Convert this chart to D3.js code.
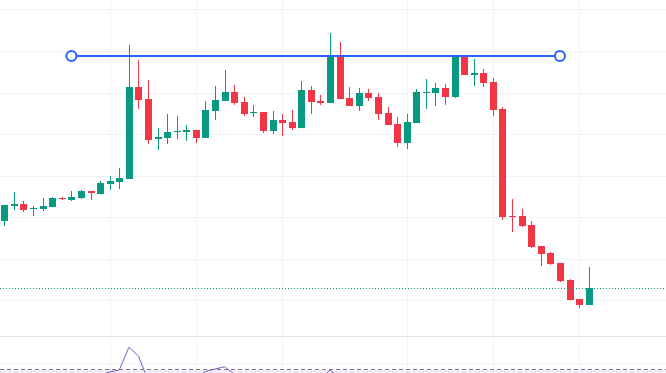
<!DOCTYPE html>
<html>
<head>
<meta charset="utf-8">
<script src="https://cdn.jsdelivr.net/npm/d3@7"></script>
<style>
  html, body { margin: 0; padding: 0; background: #ffffff; }
  svg { display: block; }
</style>
</head>
<body>
<div id="chart"></div>
<script>
// DATA (one value per candle, index 0..61)
var opens = [179.3, 194.3, 196, 191.7, 191, 193.3, 202.3, 200, 202.3, 209,
  206.3, 216.3, 218.3, 221, 313, 301, 260.7, 262.3, 268.3, 268,
  270, 262.3, 289.3, 299.3, 308, 298, 286.7, 288, 269.3, 280,
  278, 272, 310, 299.3, 297.3, 344, 302, 294, 307, 303,
  287, 276, 257, 277, 307.7, 307, 312, 303, 343, 325.3,
  327, 318, 291, 184, 184, 175, 154, 147, 137, 120,
  101, 95];
var highs = [195, 208, 199, 194, 202, 203, 203.3, 209, 210, 209,
  219, 224, 232, 355, 340, 320, 272, 286, 284, 275,
  270, 299, 314, 330, 315, 303, 295, 288, 289, 286,
  290, 319, 314, 305, 367, 358, 313, 312, 311, 307,
  293, 283, 286, 311, 321, 317, 316, 343, 343, 341,
  331, 322, 293, 201, 191, 179, 154, 148, 137, 121,
  101, 133];
var lows = [174.3, 190, 188, 184, 188.7, 193.3, 200, 199, 201, 200,
  206.3, 210, 211, 221, 291.3, 256, 250, 256, 261, 259,
  257, 262.3, 280, 299.3, 295, 284, 283.3, 267, 266, 264,
  270, 272, 286, 295, 297.3, 301.3, 294, 289, 299, 280,
  275, 253, 251, 277, 291, 294, 295, 302, 325, 314,
  313, 284, 180, 168, 173, 152, 134, 135, 118, 100,
  92, 95];
var closes = [195, 196, 190, 192.3, 194, 202, 201.7, 203, 209, 206.7,
  217, 219.3, 222, 313, 300.3, 260.3, 263, 268, 268.7, 270,
  262.3, 290, 300, 308, 297.3, 286.3, 288, 269.3, 280, 277.3,
  272, 310, 298, 297.3, 344, 301.3, 294, 307, 302.3, 286,
  275, 257.3, 278, 308, 308.3, 312, 303, 343, 325, 327,
  317, 290.3, 183, 183, 174, 153, 146, 136, 119, 100,
  95, 112];

// oscillator in the lower pane (mostly below the visible area)
var oscValues = [7, 9, 6, 8, 10, 7, 9, 8, 10, 9,
  11, 15.7, 18.9, 54.9, 41.1, 3, 5, 8, 7, 9,
  6, 16.5, 20.5, 24.1, 12.3, 9, 7, 5, 8, 10,
  8, 11, 7, 4.6, 18.9, 5.6, 8, 10, 7, 5,
  4, 6, 9, 11, 10, 8, 7, 12, 9, 8,
  6, 5, 3, 2, 3, 4, 3, 5, 4, 3,
  4, 6];

// grid + drawings
var priceGrid = [99.7, 141.3, 182.8, 224.4, 266, 307.5, 349.1, 390.7];
var timeGrid = [11, 20, 29, 42, 51, 60];
var oscGrid = [30];
var oscLevel = 20;
var levelLine = {from: 7, to: 58, price: 344};
var lastPrice = 112;

// BOUNDS
var width = 666,
	height = 373,
	mainBottom = 336,
	upColor = '#089981',
	downColor = '#f23645';

// SCALE
var xScale = d3.scaleLinear().domain([-0.45, 69.07]).range([0, width]);
var yScale = d3.scaleLinear().domain([64, 400]).range([mainBottom, 0]);
var oscScale = d3.scaleLinear().domain([20, 30]).range([369.3, 363]);

var candles = d3.range(closes.length).map(function(i) {
	return {i: i, open: opens[i], high: highs[i], low: lows[i], close: closes[i]};
});

var svg = d3.select('#chart')
	.append('svg')
	.attr('width', width)
	.attr('height', height);

// GRID
svg.append('g')
	.selectAll('line')
	.data(timeGrid)
	.enter().append('line')
	.attr('x1', function(d) { return Math.round(xScale(d)) + 0.5; })
	.attr('x2', function(d) { return Math.round(xScale(d)) + 0.5; })
	.attr('y1', 0)
	.attr('y2', height)
	.attr('stroke', '#f0f3fa');

svg.append('g')
	.selectAll('line')
	.data(priceGrid)
	.enter().append('line')
	.attr('x1', 0)
	.attr('x2', width)
	.attr('y1', function(d) { return Math.round(yScale(d)) + 0.5; })
	.attr('y2', function(d) { return Math.round(yScale(d)) + 0.5; })
	.attr('stroke', '#f0f3fa');

// CANDLES
var candleG = svg.append('g');

candleG.selectAll('line')
	.data(candles)
	.enter().append('line')
	.attr('x1', function(d) { return Math.round(xScale(d.i)) + 0.5; })
	.attr('x2', function(d) { return Math.round(xScale(d.i)) + 0.5; })
	.attr('y1', function(d) { return Math.round(yScale(d.high)); })
	.attr('y2', function(d) { return Math.round(yScale(d.low)); })
	.attr('stroke', function(d) { return d.close >= d.open ? upColor : downColor; })
	.attr('stroke-width', 1);

candleG.selectAll('rect')
	.data(candles)
	.enter().append('rect')
	.attr('x', function(d) { return Math.round(xScale(d.i)) - 3; })
	.attr('width', 7)
	.attr('y', function(d) { return Math.round(yScale(Math.max(d.open, d.close))); })
	.attr('height', function(d) {
		var h = Math.round(yScale(Math.min(d.open, d.close))) - Math.round(yScale(Math.max(d.open, d.close)));
		return Math.max(h, 1);
	})
	.attr('fill', function(d) { return d.close >= d.open ? upColor : downColor; });

// last price line (dotted)
svg.append('line')
	.attr('x1', 0)
	.attr('x2', width)
	.attr('y1', Math.round(yScale(lastPrice)) + 0.5)
	.attr('y2', Math.round(yScale(lastPrice)) + 0.5)
	.attr('stroke', upColor)
	.attr('stroke-width', 1)
	.attr('stroke-dasharray', '1,2');

// horizontal drawing with handles
var lvY = yScale(levelLine.price);
svg.append('line')
	.attr('x1', xScale(levelLine.from))
	.attr('x2', xScale(levelLine.to))
	.attr('y1', lvY)
	.attr('y2', lvY)
	.attr('stroke', '#2962ff')
	.attr('stroke-width', 2);

svg.selectAll('circle.handle')
	.data([levelLine.from, levelLine.to])
	.enter().append('circle')
	.attr('class', 'handle')
	.attr('cx', function(d) { return xScale(d); })
	.attr('cy', lvY)
	.attr('r', 5)
	.attr('fill', '#ffffff')
	.attr('stroke', '#2962ff')
	.attr('stroke-width', 2);

// LOWER PANE
svg.append('rect')
	.attr('x', 0)
	.attr('width', width)
	.attr('y', oscScale(oscLevel) + 0.7)
	.attr('height', height)
	.attr('fill', 'rgba(126,87,194,0.1)');

svg.append('line')
	.attr('x1', 0)
	.attr('x2', width)
	.attr('y1', mainBottom + 0.5)
	.attr('y2', mainBottom + 0.5)
	.attr('stroke', '#e0e3eb');

svg.append('g')
	.selectAll('line')
	.data(oscGrid)
	.enter().append('line')
	.attr('x1', 0)
	.attr('x2', width)
	.attr('y1', function(d) { return Math.round(oscScale(d)) + 0.5; })
	.attr('y2', function(d) { return Math.round(oscScale(d)) + 0.5; })
	.attr('stroke', '#f0f3fa');

svg.append('line')
	.attr('x1', 0)
	.attr('x2', width)
	.attr('y1', Math.round(oscScale(oscLevel)) + 0.5)
	.attr('y2', Math.round(oscScale(oscLevel)) + 0.5)
	.attr('stroke', '#787b86')
	.attr('stroke-dasharray', '4,3');

var oscLine = d3.line()
	.x(function(d, i) { return xScale(i); })
	.y(function(d) { return oscScale(d); });

svg.append('path')
	.attr('d', oscLine(oscValues))
	.attr('fill', 'none')
	.attr('stroke', '#7e57c2')
	.attr('stroke-width', 1);
</script>
</body>
</html>
